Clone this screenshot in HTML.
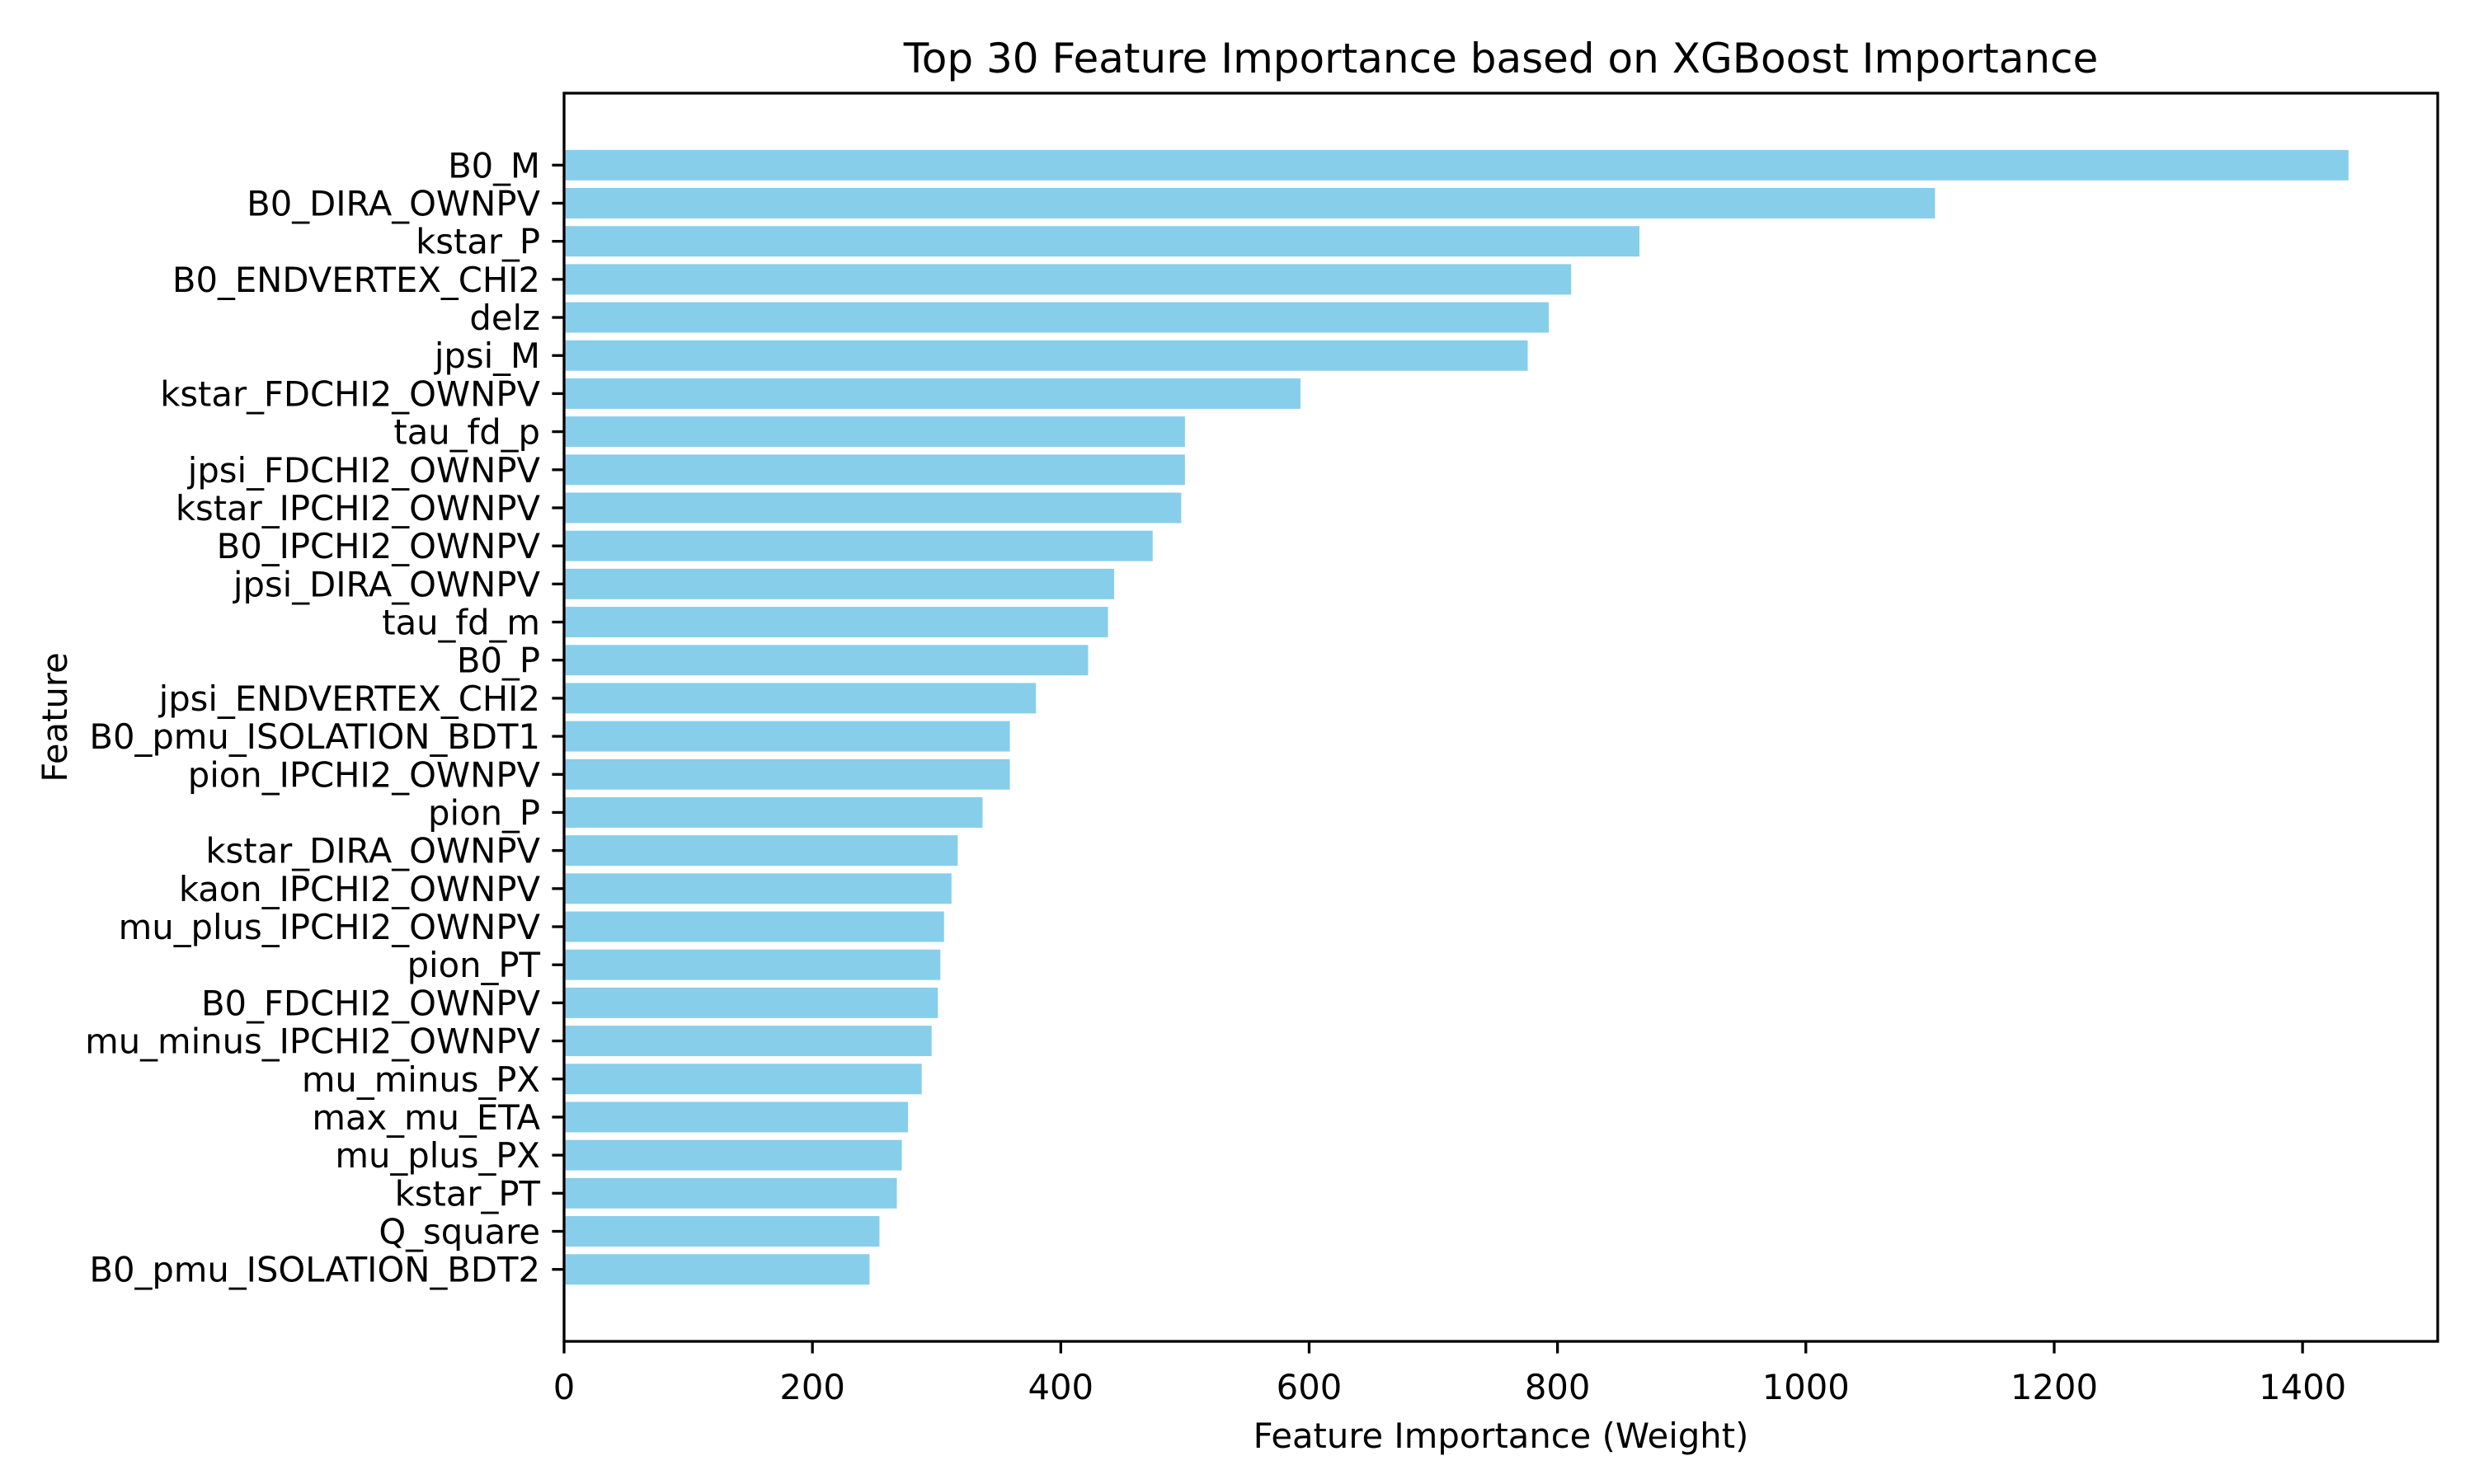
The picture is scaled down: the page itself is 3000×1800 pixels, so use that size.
<!DOCTYPE html>
<html><head><meta charset="utf-8"><style>
html,body{margin:0;padding:0;background:#fff;}
svg{display:block;font-family:"DejaVu Sans","Liberation Sans",sans-serif;}
</style></head><body>
<svg id="chart" width="3000" height="1800" viewBox="0 0 3000 1800" xmlns="http://www.w3.org/2000/svg">
<rect width="3000" height="1800" fill="#fff"/>
<text x="1820" y="88" font-size="50" text-anchor="middle">Top 30 Feature Importance based on XGBoost Importance</text>
<text x="1820" y="1756" font-size="41.7" text-anchor="middle">Feature Importance (Weight)</text>
<text x="0" y="0" font-size="41.7" text-anchor="middle" transform="translate(81,870) rotate(-90)">Feature</text>
<g id="bars"></g>
<g id="yticks"></g>
<g id="xticks"></g>
<rect x="684" y="113" width="2272" height="1514" fill="none" stroke="#000" stroke-width="3.3"/>
</svg>
<script>
const features = ["B0_M","B0_DIRA_OWNPV","kstar_P","B0_ENDVERTEX_CHI2","delz","jpsi_M","kstar_FDCHI2_OWNPV","tau_fd_p","jpsi_FDCHI2_OWNPV","kstar_IPCHI2_OWNPV","B0_IPCHI2_OWNPV","jpsi_DIRA_OWNPV","tau_fd_m","B0_P","jpsi_ENDVERTEX_CHI2","B0_pmu_ISOLATION_BDT1","pion_IPCHI2_OWNPV","pion_P","kstar_DIRA_OWNPV","kaon_IPCHI2_OWNPV","mu_plus_IPCHI2_OWNPV","pion_PT","B0_FDCHI2_OWNPV","mu_minus_IPCHI2_OWNPV","mu_minus_PX","max_mu_ETA","mu_plus_PX","kstar_PT","Q_square","B0_pmu_ISOLATION_BDT2"];
const weights = [1437,1104,866,811,793,776,593,500,500,497,474,443,438,422,380,359,359,337,317,312,306,303,301,296,288,277,272,268,254,246];
const xTicks = [0,200,400,600,800,1000,1200,1400];

const NS = "http://www.w3.org/2000/svg";
const L = 684, R = 2956, T = 113, B = 1627;
const n = features.length;
const xMax = Math.max(...weights) * 1.05;
const x = v => L + (v / xMax) * (R - L);
const yMin = -0.4 - 0.05 * (n - 1 + 0.8), yMax = n - 1 + 0.4 + 0.05 * (n - 1 + 0.8);
const y = v => B - (v - yMin) / (yMax - yMin) * (B - T);
const unit = (B - T) / (yMax - yMin);

const bars = document.getElementById('bars');
const yt = document.getElementById('yticks');
const xt = document.getElementById('xticks');
features.forEach((f, i) => {
  const pos = n - 1 - i;
  const cy = y(pos);
  const r = document.createElementNS(NS, 'rect');
  r.setAttribute('x', x(0));
  r.setAttribute('y', cy - 0.4 * unit);
  r.setAttribute('width', x(weights[i]) - x(0));
  r.setAttribute('height', 0.8 * unit);
  r.setAttribute('fill', '#87CEEB');
  
  
  bars.appendChild(r);
  const tk = document.createElementNS(NS, 'line');
  tk.setAttribute('x1', L); tk.setAttribute('x2', L - 14.6);
  tk.setAttribute('y1', cy); tk.setAttribute('y2', cy);
  tk.setAttribute('stroke', '#000'); tk.setAttribute('stroke-width', 3.3);
  
  
  yt.appendChild(tk);
  const t = document.createElementNS(NS, 'text');
  t.setAttribute('x', L - 29);
  t.setAttribute('y', cy + 15);
  t.setAttribute('font-size', '41.7');
  t.setAttribute('text-anchor', 'end');
  t.textContent = f;
  
  
  yt.appendChild(t);
});
xTicks.forEach(v => {
  const px = x(v);
  const tk = document.createElementNS(NS, 'line');
  tk.setAttribute('x1', px); tk.setAttribute('x2', px);
  tk.setAttribute('y1', B); tk.setAttribute('y2', B + 14.6);
  tk.setAttribute('stroke', '#000'); tk.setAttribute('stroke-width', 3.3);
  
  
  xt.appendChild(tk);
  const t = document.createElementNS(NS, 'text');
  t.setAttribute('x', px);
  t.setAttribute('y', B + 70);
  t.setAttribute('font-size', '41.7');
  t.setAttribute('text-anchor', 'middle');
  t.textContent = String(v);
  
  
  xt.appendChild(t);
});
</script>
</body></html>
